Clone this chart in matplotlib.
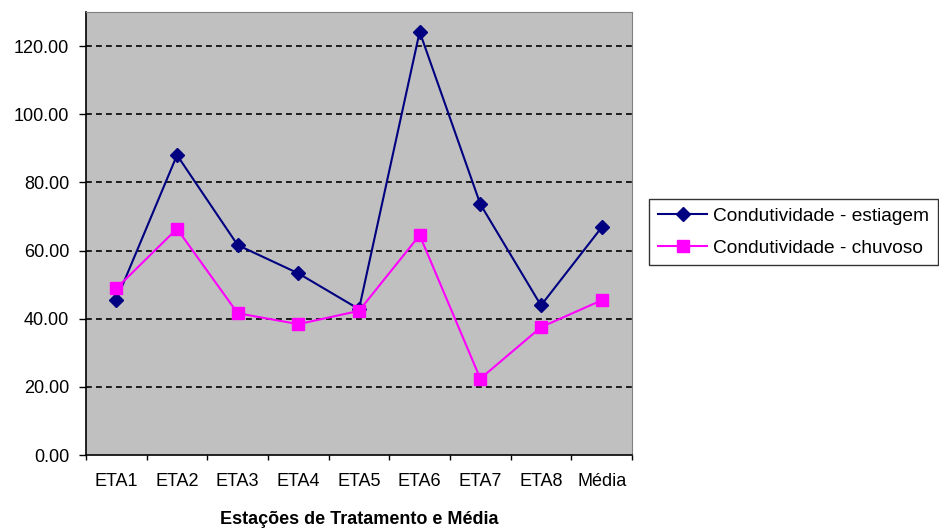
import numpy as np
import matplotlib.pyplot as plt

plt.rcParams['font.family'] = ['Liberation Sans', 'DejaVu Sans']

categorias = ['ETA1', 'ETA2', 'ETA3', 'ETA4', 'ETA5', 'ETA6', 'ETA7', 'ETA8', 'Média']
estiagem = [45.5, 88.0, 61.6, 53.3, 42.8, 124.2, 73.6, 43.9, 66.8]
chuvoso = [48.9, 66.4, 41.6, 38.4, 42.3, 64.5, 22.4, 37.5, 45.4]
yticks = [0, 20, 40, 60, 80, 100, 120]

fig = plt.figure(figsize=(9.39, 5.28), dpi=100)
ax = fig.add_axes([86 / 939, 73 / 528, 546 / 939, 443 / 528])
ax.set_facecolor('#C0C0C0')

x = np.arange(len(categorias))
ax.plot(x, estiagem, color='#000080', lw=1.5, marker='D', ms=7.5,
        label='Condutividade - estiagem', zorder=3)
ax.plot(x, chuvoso, color='#FF00FF', lw=1.5, marker='s', ms=8,
        label='Condutividade - chuvoso', zorder=3)

ax.set_xlim(-0.5, len(categorias) - 0.5)
ax.set_ylim(0, 130)
ax.set_yticks(yticks)
ax.set_yticklabels(['%.2f' % v for v in yticks], fontsize=13)
ax.set_xticks(np.arange(len(categorias) + 1) - 0.5)
ax.set_xticklabels([])
ax.set_xticks(x, minor=True)
ax.set_xticklabels(categorias, minor=True, fontsize=13)
ax.tick_params(axis='x', which='minor', length=0, pad=13)
ax.tick_params(axis='x', which='major', direction='out', length=3.5, width=1)
ax.tick_params(axis='y', direction='out', length=5, width=1, pad=7)

for v in yticks[1:]:
    ax.axhline(v, color='black', lw=1.2, ls=(0, (3.5, 2.5)), zorder=1)

ax.spines['left'].set_color('black')
ax.spines['bottom'].set_color('black')
ax.spines['left'].set_linewidth(1.2)
ax.spines['bottom'].set_linewidth(1.2)
ax.spines['top'].set_color('#808080')
ax.spines['right'].set_color('#808080')

ax.set_xlabel('Estações de Tratamento e Média', fontsize=13, fontweight='bold',
              labelpad=15)

leg = fig.legend(loc='upper left', bbox_to_anchor=(649 / 939, 1 - 199 / 528),
                 fontsize=13.8, frameon=True, fancybox=False, edgecolor='black',
                 handlelength=2.6, borderpad=0.45, labelspacing=0.75,
                 handletextpad=0.3, borderaxespad=0)
leg.get_frame().set_linewidth(1)

fig.savefig('out.png', dpi=100)
